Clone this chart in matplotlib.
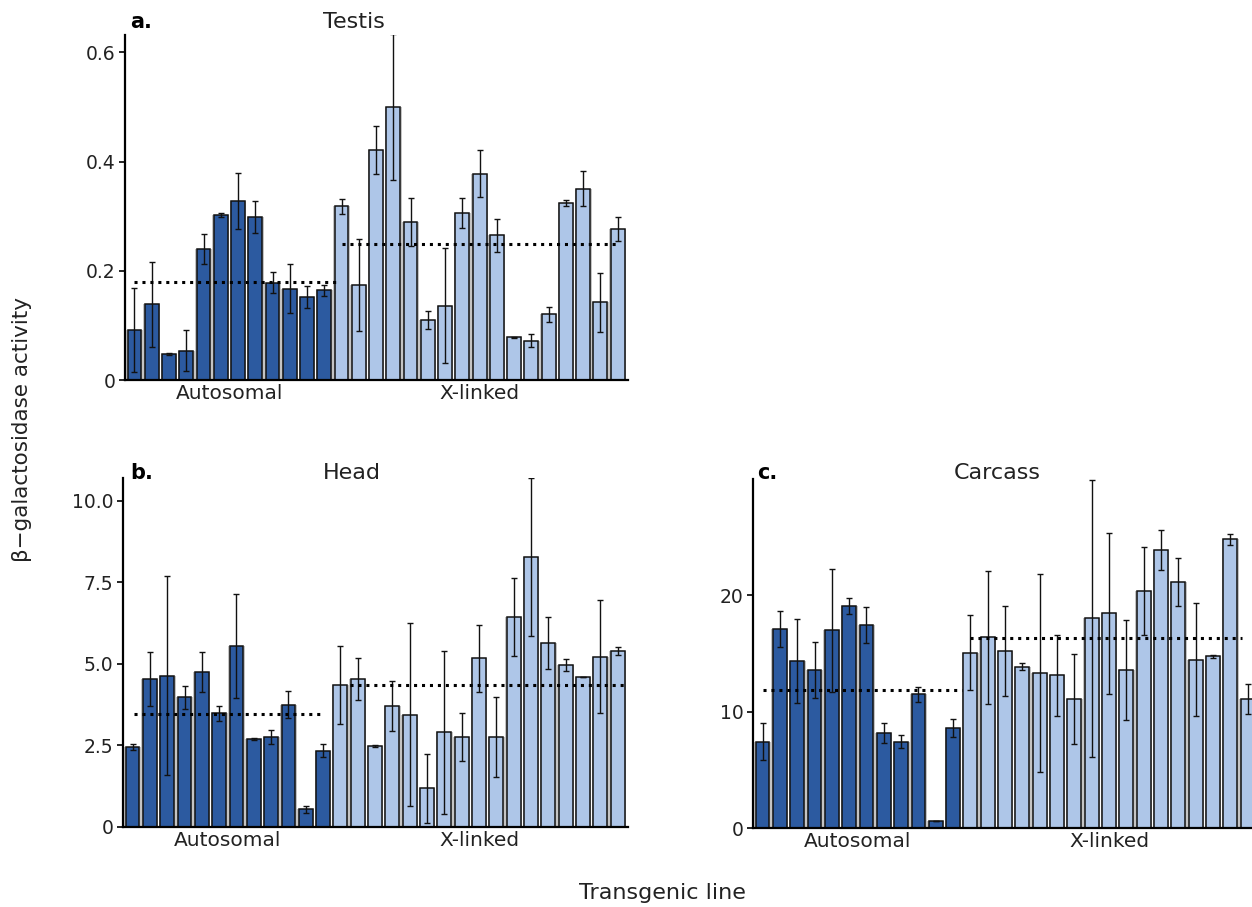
import matplotlib
matplotlib.use("Agg")
import matplotlib.pyplot as plt
import numpy as np

W, H = 1252, 907
dark = '#2c5aa0'
light = '#aec6e8'

# a. testis
testis_auto = [0.092, 0.139, 0.048, 0.054, 0.240, 0.302, 0.328, 0.299, 0.178, 0.167, 0.152, 0.164]
testis_auto_err = [0.077, 0.078, 0.002, 0.037, 0.028, 0.004, 0.051, 0.029, 0.019, 0.045, 0.021, 0.010]
testis_x = [0.318, 0.174, 0.422, 0.500, 0.290, 0.110, 0.136, 0.306, 0.378, 0.265, 0.078, 0.072,
            0.120, 0.324, 0.350, 0.142, 0.277]
testis_x_err = [0.013, 0.085, 0.044, 0.134, 0.044, 0.016, 0.105, 0.028, 0.043, 0.030, 0.001, 0.012,
                0.013, 0.006, 0.032, 0.054, 0.022]
testis_means = [0.180, 0.250]

# b. head
head_auto = [2.45, 4.54, 4.64, 3.97, 4.75, 3.48, 5.54, 2.69, 2.75, 3.75, 0.54, 2.33]
head_auto_err = [0.08, 0.82, 3.05, 0.36, 0.60, 0.23, 1.60, 0.03, 0.22, 0.42, 0.10, 0.20]
head_x = [4.34, 4.54, 2.49, 3.70, 3.44, 1.18, 2.90, 2.75, 5.17, 2.75, 6.44, 8.28, 5.64, 4.97,
          4.59, 5.22, 5.39]
head_x_err = [1.20, 0.65, 0.03, 0.77, 2.80, 1.05, 2.50, 0.74, 1.03, 1.23, 1.20, 2.42, 0.80, 0.18,
              0.0, 1.74, 0.13]
head_means = [3.46, 4.36]

# c. carcass
carcass_auto = [7.41, 17.14, 14.33, 13.59, 17.0, 19.06, 17.45, 8.15, 7.41, 11.5, 0.63, 8.58]
carcass_auto_err = [1.60, 1.55, 3.60, 2.38, 5.30, 0.70, 1.55, 0.88, 0.57, 0.64, 0.0, 0.77]
carcass_x = [15.08, 16.39, 15.22, 13.88, 13.30, 13.13, 11.10, 18.03, 18.45, 13.59, 20.37, 23.92,
             21.12, 14.48, 14.76, 24.81, 11.10]
carcass_x_err = [3.25, 5.70, 3.90, 0.28, 8.50, 3.50, 3.85, 11.90, 6.95, 4.27, 3.80, 1.70, 2.07,
                 4.88, 0.15, 0.50, 1.30]
carcass_means = [11.87, 16.31]

group_labels = ['Autosomal', 'X-linked']

plt.rcParams['font.family'] = 'DejaVu Sans'
fig = plt.figure(figsize=(W / 100, H / 100), dpi=100)


def px_axes(left, top, right, bottom):
    return fig.add_axes([left / W, 1 - bottom / H, (right - left) / W, (bottom - top) / H])


def panel(ax, auto, auto_err, xl, xl_err, means, spans, ymax, yticks, ylabels):
    vals = np.array(auto + xl)
    errs = np.array(auto_err + xl_err)
    pos = np.arange(len(vals))
    cols = [dark] * len(auto) + [light] * len(xl)
    ax.bar(pos, vals, width=0.97, color='#c4c4c4', zorder=1)
    ax.bar(pos, vals, width=0.8, color=cols, edgecolor='#111111', linewidth=1.1, zorder=2)
    ax.errorbar(pos, vals, yerr=errs, fmt='none', ecolor='#111111', elinewidth=1.0,
                capsize=2.5, capthick=1.0, zorder=3)
    for m, (a, b) in zip(means, spans):
        ax.plot([a, b], [m, m], color='black', lw=2.2, linestyle=(0, (1, 1.6)), zorder=4)
    ax.set_xlim(-0.55, len(vals) - 0.4)
    ax.set_ylim(0, ymax)
    ax.set_yticks(yticks)
    ax.set_yticklabels(ylabels)
    ax.set_xticks([(len(auto) - 1) / 2, len(auto) + (len(xl) - 1) / 2])
    ax.set_xticklabels(group_labels, fontsize=14.5, color='#222222')
    ax.tick_params(axis='x', length=0, pad=3)
    ax.tick_params(axis='y', length=4, width=1.2, labelsize=13.5, labelcolor='#222222', pad=3)
    for s in ['top', 'right']:
        ax.spines[s].set_visible(False)
    for s in ['left', 'bottom']:
        ax.spines[s].set_linewidth(1.6)


ax_a = px_axes(125, 35, 628, 380)
panel(ax_a, testis_auto, testis_auto_err, testis_x, testis_x_err, testis_means,
      [(0, 11.8), (12.05, 28.0)], 0.632, [0, 0.2, 0.4, 0.6], ['0', '0.2', '0.4', '0.6'])

ax_b = px_axes(123, 478, 628, 827)
panel(ax_b, head_auto, head_auto_err, head_x, head_x_err, head_means,
      [(0.1, 11.0), (12.55, 28.5)], 10.69, [0, 2.5, 5.0, 7.5, 10.0],
      ['0', '2.5', '5.0', '7.5', '10.0'])

ax_c = px_axes(753, 479, 1258, 828)
panel(ax_c, carcass_auto, carcass_auto_err, carcass_x, carcass_x_err, carcass_means,
      [(0, 11.5), (11.95, 27.7)], 30.0, [0, 10, 20], ['0', '10', '20'])


def ftext(x, y, s, **kw):
    fig.text(x / W, 1 - y / H, s, **kw)


ftext(130, 22, 'a.', fontsize=15, fontweight='bold', va='center', ha='left')
ftext(130, 473, 'b.', fontsize=15, fontweight='bold', va='center', ha='left')
ftext(757, 473, 'c.', fontsize=15, fontweight='bold', va='center', ha='left')
ftext(354, 22, 'Testis', fontsize=16, va='center', ha='center', color='#222222')
ftext(352, 473, 'Head', fontsize=16, va='center', ha='center', color='#222222')
ftext(997, 473, 'Carcass', fontsize=16, va='center', ha='center', color='#222222')
ftext(22, 430, 'β−galactosidase activity', fontsize=15.5, rotation=90, va='center',
      ha='center', color='#222222')
ftext(662, 893, 'Transgenic line', fontsize=16, va='center', ha='center', color='#222222')

fig.savefig('out.png', dpi=100)
